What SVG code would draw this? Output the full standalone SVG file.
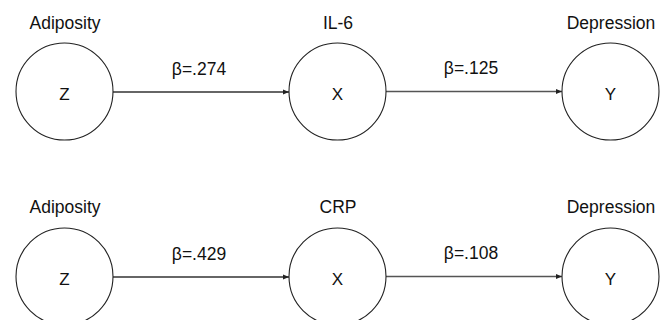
<svg xmlns="http://www.w3.org/2000/svg" width="665" height="320" viewBox="0 0 665 320">
<style>
.node circle{fill:#fff;stroke:#222;stroke-width:1.1}
.lbl{font-family:"Liberation Sans",Arial,sans-serif;font-size:17.5px;fill:#111;text-anchor:middle}
.var{font-family:"Liberation Sans",Arial,sans-serif;font-size:17px;fill:#111;text-anchor:middle}
.edge{stroke:#333;stroke-width:1.4;fill:none;marker-end:url(#ah)}
.edge2{stroke:#555;stroke-width:1.6;fill:none;marker-end:url(#ah)}
</style>
<defs>
<marker id="ah" viewBox="0 0 10 10" refX="10" refY="5" markerWidth="6" markerHeight="6" orient="auto" markerUnits="userSpaceOnUse">
<path d="M0,1 L10,5 L0,9 Z" fill="#222"/>
</marker>
</defs>
<rect width="665" height="320" fill="#fff"/>
<g id="connectors">
<line class="edge" x1="113" y1="92" x2="289" y2="92"/>
<line class="edge2" x1="386" y1="91.5" x2="562" y2="91.5"/>
<line class="edge" x1="113" y1="277" x2="289" y2="277"/>
<line class="edge2" x1="386" y1="276.5" x2="562" y2="276.5"/>
<text class="lbl" x="199" y="75">β=.274</text>
<text class="lbl" x="471" y="74">β=.125</text>
<text class="lbl" x="199" y="260">β=.429</text>
<text class="lbl" x="471" y="259">β=.108</text>
</g>
<g id="z1" class="node">
<text class="lbl" x="65" y="29">Adiposity</text>
<circle cx="64.5" cy="91.5" r="48.5"/>
<text class="var" x="64.5" y="99.5">Z</text>
</g>
<g id="x1" class="node">
<text class="lbl" x="338" y="29">IL-6</text>
<circle cx="337.5" cy="91.5" r="48.5"/>
<text class="var" x="337.5" y="99.5">X</text>
</g>
<g id="y1" class="node">
<text class="lbl" x="611" y="29">Depression</text>
<circle cx="610.5" cy="91.5" r="48.5"/>
<text class="var" x="610.5" y="99.5">Y</text>
</g>
<g id="z2" class="node">
<text class="lbl" x="65" y="213">Adiposity</text>
<circle cx="64.5" cy="276.5" r="48.5"/>
<text class="var" x="64.5" y="284.5">Z</text>
</g>
<g id="x2" class="node">
<text class="lbl" x="338" y="213">CRP</text>
<circle cx="337.5" cy="276.5" r="48.5"/>
<text class="var" x="337.5" y="284.5">X</text>
</g>
<g id="y2" class="node">
<text class="lbl" x="611" y="213">Depression</text>
<circle cx="610.5" cy="276.5" r="48.5"/>
<text class="var" x="610.5" y="284.5">Y</text>
</g>
</svg>
